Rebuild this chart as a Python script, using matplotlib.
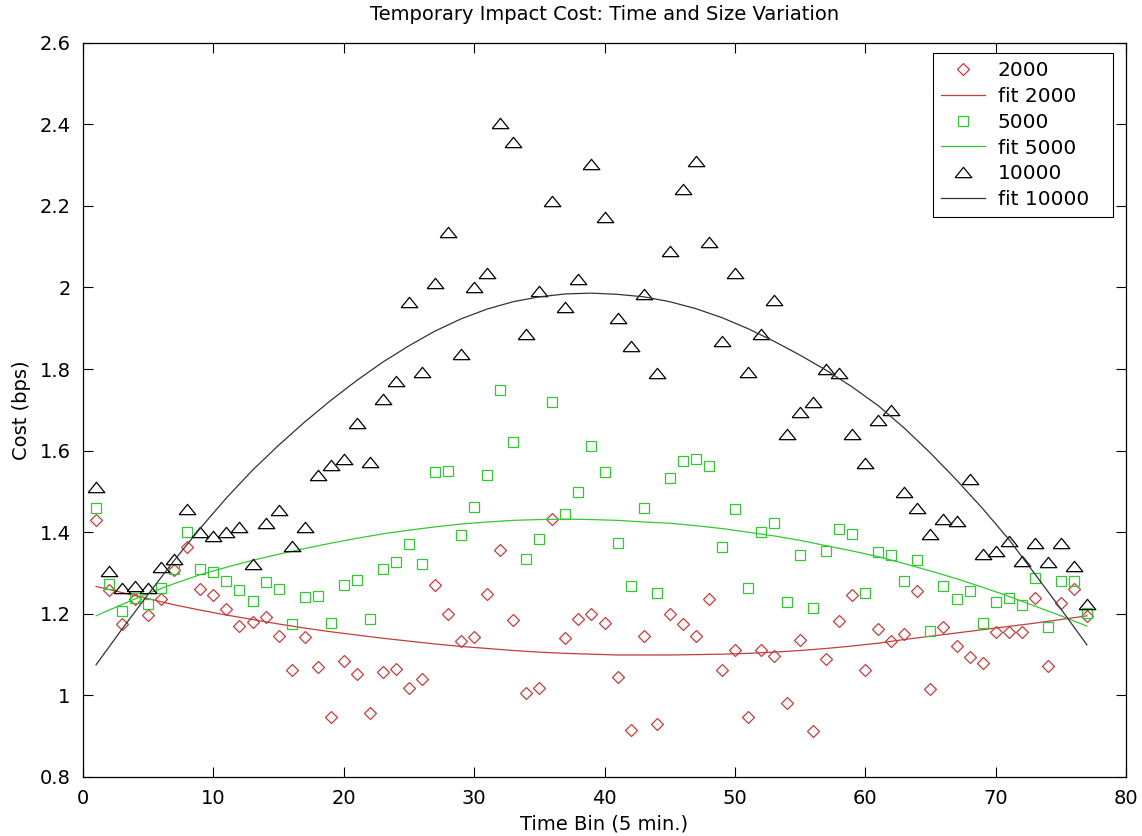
import numpy as np
import matplotlib
matplotlib.use('Agg')
import matplotlib.pyplot as plt

plt.rcParams['font.family'] = ['DejaVu Sans']

# time bins 1..77
bins = list(range(1, 78))

cost_2000 = [1.430, 1.258, 1.175, 1.236, 1.196, 1.236, 1.307, 1.364, 1.260, 1.246,
             1.211, 1.171, 1.179, 1.193, 1.146, 1.062, 1.142, 1.070, 0.946, 1.085,
             1.052, 0.958, 1.058, 1.064, 1.017, 1.040, 1.271, 1.200, 1.133, 1.144,
             1.248, 1.356, 1.186, 1.005, 1.017, 1.432, 1.141, 1.188, 1.200, 1.177,
             1.046, 0.915, 1.146, 0.929, 1.200, 1.175, 1.146, 1.236, 1.062, 1.111,
             0.948, 1.111, 1.096, 0.982, 1.136, 0.913, 1.090, 1.182, 1.246, 1.062,
             1.162, 1.133, 1.150, 1.257, 1.015, 1.168, 1.122, 1.095, 1.079, 1.156,
             1.156, 1.156, 1.239, 1.072, 1.226, 1.260, 1.195]

cost_5000 = [1.460, 1.272, 1.208, 1.239, 1.223, 1.264, 1.311, 1.400, 1.311, 1.302,
             1.281, 1.258, 1.232, 1.279, 1.261, 1.175, 1.241, 1.244, 1.177, 1.271,
             1.283, 1.187, 1.310, 1.328, 1.372, 1.321, 1.548, 1.551, 1.394, 1.462,
             1.540, 1.749, 1.622, 1.334, 1.383, 1.720, 1.445, 1.499, 1.611, 1.547,
             1.374, 1.268, 1.459, 1.252, 1.534, 1.575, 1.579, 1.562, 1.363, 1.457,
             1.262, 1.401, 1.423, 1.230, 1.344, 1.215, 1.355, 1.408, 1.395, 1.252,
             1.352, 1.344, 1.281, 1.332, 1.159, 1.267, 1.236, 1.257, 1.177, 1.230,
             1.238, 1.222, 1.287, 1.168, 1.281, 1.281, 1.203]

cost_10000 = [1.510, 1.305, 1.263, 1.268, 1.263, 1.314, 1.334, 1.456, 1.400, 1.391,
              1.400, 1.413, 1.322, 1.423, 1.454, 1.366, 1.413, 1.540, 1.565, 1.579,
              1.668, 1.571, 1.726, 1.770, 1.965, 1.792, 2.010, 2.137, 1.838, 2.000,
              2.035, 2.402, 2.356, 1.885, 1.992, 2.212, 1.953, 2.020, 2.302, 2.172,
              1.924, 1.857, 1.984, 1.791, 2.090, 2.241, 2.310, 2.112, 1.869, 2.036,
              1.793, 1.887, 1.970, 1.641, 1.695, 1.720, 1.799, 1.789, 1.641, 1.570,
              1.675, 1.700, 1.498, 1.460, 1.396, 1.432, 1.427, 1.530, 1.347, 1.354,
              1.378, 1.329, 1.374, 1.328, 1.374, 1.317, 1.223]

# fitted curves, read every 2 bins
fit_bins = list(range(1, 78, 2))
fit_2000 = [1.267, 1.252, 1.237, 1.222, 1.209, 1.197, 1.186, 1.175, 1.165, 1.156,
            1.148, 1.140, 1.133, 1.126, 1.120, 1.115, 1.110, 1.106, 1.103, 1.101,
            1.099, 1.099, 1.099, 1.100, 1.101, 1.103, 1.106, 1.110, 1.115, 1.121,
            1.128, 1.137, 1.145, 1.153, 1.161, 1.169, 1.177, 1.186, 1.195]
fit_5000 = [1.195, 1.223, 1.250, 1.274, 1.296, 1.314, 1.331, 1.346, 1.360, 1.373,
            1.385, 1.396, 1.405, 1.413, 1.420, 1.425, 1.429, 1.431, 1.432, 1.431,
            1.429, 1.425, 1.422, 1.416, 1.409, 1.400, 1.391, 1.380, 1.367, 1.354,
            1.340, 1.323, 1.305, 1.286, 1.265, 1.243, 1.219, 1.195, 1.170]
fit_10000 = [1.075, 1.163, 1.248, 1.331, 1.410, 1.484, 1.552, 1.613, 1.670, 1.723,
             1.772, 1.817, 1.857, 1.893, 1.923, 1.947, 1.965, 1.977, 1.984, 1.986,
             1.983, 1.977, 1.965, 1.948, 1.926, 1.899, 1.868, 1.834, 1.797, 1.756,
             1.710, 1.655, 1.594, 1.528, 1.458, 1.383, 1.298, 1.212, 1.124]

yticks = [0.8, 1.0, 1.2, 1.4, 1.6, 1.8, 2.0, 2.2, 2.4, 2.6]
ytick_labels = ['0.8', '1', '1.2', '1.4', '1.6', '1.8', '2', '2.2', '2.4', '2.6']
xticks = [0, 10, 20, 30, 40, 50, 60, 70, 80]

red = '#c43c3c'
green = '#33c833'
black = '#000000'
tri = [(-1, -0.62), (1, -0.62), (0, 0.62), (-1, -0.62)]

fig = plt.figure(figsize=(11.42, 8.36), dpi=100)
ax = fig.add_axes([0.0727, 0.0706, 0.9133, 0.8784])

ax.plot(bins, cost_2000, linestyle='none', marker='D', ms=6.5, mfc='none',
        mec=red, mew=0.9, label='2000')
ax.plot(fit_bins, fit_2000, color=red, lw=0.9, label='fit 2000')
ax.plot(bins, cost_5000, linestyle='none', marker='s', ms=7, mfc='none',
        mec=green, mew=0.9, label='5000')
ax.plot(fit_bins, fit_5000, color=green, lw=0.9, label='fit 5000')
ax.plot(bins, cost_10000, linestyle='none', marker=tri, ms=12, mfc='none',
        mec=black, mew=0.9, label='10000')
ax.plot(fit_bins, fit_10000, color='#333333', lw=0.9, label='fit 10000')

ax.set_xlim(0, 80)
ax.set_ylim(0.8, 2.6)
ax.set_xticks(xticks)
ax.set_yticks(yticks)
ax.set_yticklabels(ytick_labels)
ax.tick_params(direction='in', length=7, width=0.8, top=True, right=True,
               labelsize=14)
ax.tick_params(axis='x', pad=9)
ax.tick_params(axis='y', pad=9)
for s in ax.spines.values():
    s.set_linewidth(0.9)

ax.set_xlabel('Time Bin (5 min.)', fontsize=14, labelpad=4)
ax.set_ylabel('Cost (bps)', fontsize=14, labelpad=6)
ax.set_title('Temporary Impact Cost: Time and Size Variation', fontsize=14, pad=16)

# legend box spans roughly x 933-1113 px, y 53-214 px
leg = ax.legend(loc='upper right', bbox_to_anchor=(0.815, 0.765, 0.1725, 0.221),
                mode='expand', numpoints=1,
                fontsize=14.5, fancybox=False, framealpha=1, edgecolor='black',
                handlelength=2.2, labelspacing=0.34, borderpad=0.4,
                handletextpad=0.6, borderaxespad=0)
leg.get_frame().set_linewidth(0.8)

fig.savefig('out.png', dpi=100)
